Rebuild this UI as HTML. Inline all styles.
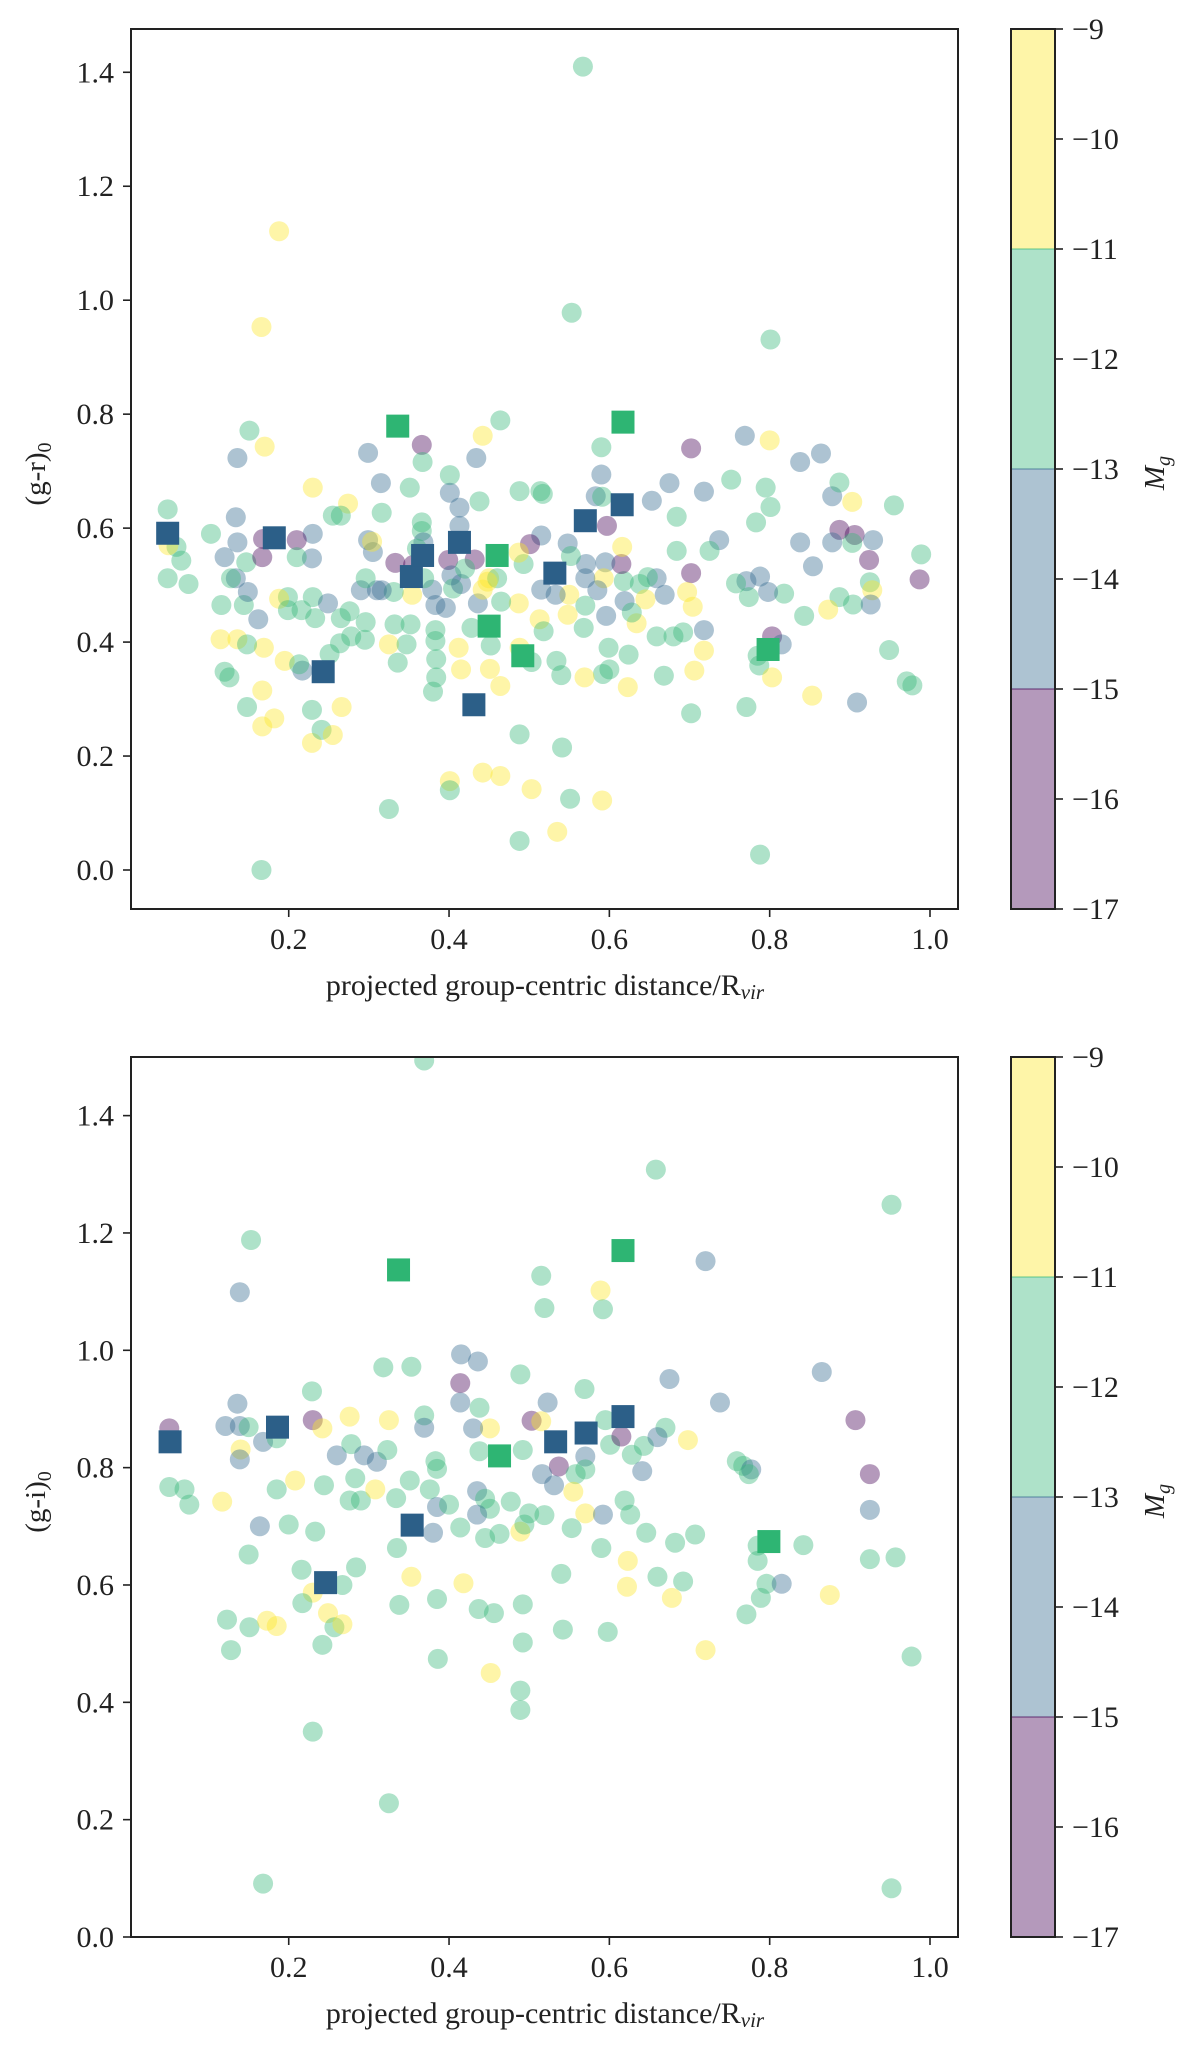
<!DOCTYPE html>
<html><head><meta charset="utf-8">
<style>
html,body{margin:0;padding:0;background:#fff;}
svg{display:block;font-family:"Liberation Serif",serif;}
</style></head>
<body>
<svg id="fig" width="1200" height="2053" viewBox="0 0 1200 2053" xmlns="http://www.w3.org/2000/svg"></svg>
<script>
// ---- top panel data: (g-r)0 vs distance, magnitude bins ----
const topX = [.567,.188,.166,.553,.801,.464,.442,.366,.367,.151,.170,.136,.299,.434,.315,.351,.230,.401,.401,.438,.413,.274,.316,.255,.265,.514,.488,.517,.590,.590,.583,.591,.653,.675,.684,.702,.718,.752,.769,.800,.838,.864,.795,.801,.783,.878,.887,.903,.955,.887,.906,.878,.903,.929,.838,.924,.989,.987,.925,.928,.904,.926,.887,.873,.843,.854,.818,.798,.788,.771,.758,.774,.737,.725,.684,.702,.697,.704,.718,.718,.949,.803,.815,.785,.787,.803,.853,.909,.971,.978,.771,.702,.706,.668,.623,.600,.592,.569,.540,.534,.599,.624,.634,.659,.680,.692,.669,.659,.648,.638,.618,.615,.616,.597,.595,.593,.585,.570,.571,.548,.552,.550,.570,.548,.568,.596,.619,.628,.645,.515,.501,.493,.487,.515,.533,.487,.513,.518,.488,.503,.488,.541,.503,.535,.488,.551,.591,.788,.166,.325,.401,.401,.442,.464,.415,.451,.464,.412,.428,.452,.436,.442,.450,.380,.384,.384,.383,.383,.383,.379,.369,.366,.366,.368,.336,.325,.332,.352,.347,.354,.331,.310,.290,.296,.295,.278,.264,.251,.276,.265,.233,.230,.249,.229,.230,.210,.210,.199,.188,.199,.216,.195,.217,.213,.169,.167,.182,.167,.148,.229,.229,.241,.255,.266,.120,.126,.115,.136,.148,.116,.144,.162,.149,.134,.128,.120,.147,.167,.168,.136,.134,.103,.049,.049,.075,.066,.060,.050,.299,.305,.304,.296,.316,.333,.355,.360,.399,.432,.413,.403,.405,.396,.415,.420,.465,.460,.448];
const topY = [1.41,1.121,.953,.978,.931,.789,.762,.746,.716,.771,.743,.723,.732,.723,.679,.671,.671,.693,.662,.647,.636,.643,.627,.622,.622,.665,.665,.66,.742,.694,.656,.655,.648,.679,.62,.74,.664,.685,.762,.754,.716,.731,.671,.637,.61,.656,.68,.646,.64,.597,.588,.575,.574,.579,.575,.544,.554,.51,.505,.491,.466,.466,.479,.457,.446,.533,.485,.488,.515,.507,.503,.479,.579,.56,.56,.521,.488,.462,.421,.385,.386,.41,.396,.376,.359,.338,.306,.294,.331,.324,.286,.275,.35,.341,.321,.352,.344,.338,.342,.367,.39,.378,.433,.41,.41,.417,.483,.512,.514,.502,.507,.537,.567,.604,.54,.512,.491,.512,.537,.573,.551,.483,.464,.448,.425,.446,.472,.452,.475,.587,.572,.537,.557,.492,.483,.468,.44,.419,.39,.365,.238,.215,.142,.067,.051,.125,.122,.027,0,.107,.156,.14,.171,.165,.352,.353,.323,.39,.425,.394,.468,.492,.512,.313,.338,.37,.402,.421,.465,.492,.512,.595,.61,.575,.364,.396,.431,.431,.396,.483,.488,.491,.491,.435,.404,.41,.398,.379,.454,.442,.442,.479,.468,.547,.59,.579,.549,.479,.476,.456,.456,.367,.35,.361,.39,.315,.266,.252,.286,.281,.223,.246,.237,.286,.348,.338,.405,.405,.396,.465,.465,.44,.488,.512,.512,.549,.54,.549,.581,.575,.619,.59,.633,.512,.502,.543,.567,.57,.579,.558,.576,.512,.491,.539,.535,.564,.544,.545,.604,.517,.494,.46,.502,.529,.471,.512,.506];
const topMag = [
 "G","Y","Y","G","G","G","Y","P","G","G",
 "Y","B","B","B","B","G","Y","G","B","G",
 "B","Y","G","G","G","G","G","G","G","B",
 "B","G","B","B","G","P","B","G","B","Y",
 "B","B","G","G","G","B","G","Y","G","P",
 "P","B","G","B","B","P","G","P","G","Y",
 "G","B","G","Y","G","B","G","B","B","B",
 "G","G","B","G","G","P","Y","Y","B","Y",
 "G","P","B","G","G","Y","Y","B","G","G",
 "G","G","Y","G","Y","G","G","Y","G","G",
 "G","G","Y","G","G","G","B","B","G","G",
 "G","P","Y","P","B","Y","B","B","B","B",
 "G","Y","G","Y","G","B","B","G","Y","B",
 "P","G","Y","B","B","Y","Y","G","Y","G",
 "G","G","Y","Y","G","G","Y","G","G","G",
 "Y","G","Y","Y","Y","Y","Y","Y","G","G",
 "B","Y","Y","G","G","G","G","G","B","B",
 "G","G","G","B","G","Y","G","G","G","Y",
 "G","B","B","G","G","G","G","G","G","G",
 "G","G","B","B","B","P","G","G","Y","G",
 "G","Y","B","G","Y","Y","Y","Y","G","G",
 "Y","G","Y","Y","G","G","Y","Y","G","G",
 "G","B","B","B","G","B","G","P","P","B",
 "B","G","G","G","G","G","G","Y","B","B",
 "Y","G","B","P","P","G","P","P","B","B",
 "G","B","B","G","G","G","Y"];
const topSqBX = [.049,.182,.243,.353,.367,.413,.431,.532,.570,.616];
const topSqBY = [.591,.583,.348,.515,.552,.575,.290,.521,.613,.641];
const topSqGX = [.336,.617,.460,.450,.492,.798];
const topSqGY = [.779,.786,.552,.428,.376,.387];

// ---- bottom panel data: (g-i)0 ----
const botX = [.369,.658,.952,.153,.139,.720,.515,.589,.519,.592,.415,.436,.318,.353,.489,.675,.865,.414,.229,.569,.738,.414,.523,.438,.369,.276,.325,.230,.051,.121,.139,.150,.242,.136,.907,.503,.515,.369,.451,.430,.595,.601,.643,.670,.660,.615,.698,.140,.139,.168,.185,.260,.278,.294,.310,.323,.438,.383,.385,.492,.537,.516,.531,.570,.570,.558,.628,.641,.759,.767,.777,.774,.925,.925,.051,.070,.076,.117,.185,.208,.244,.283,.276,.290,.308,.334,.351,.376,.385,.400,.435,.445,.451,.477,.500,.519,.555,.570,.592,.619,.626,.646,.682,.707,.435,.414,.445,.463,.489,.494,.553,.590,.164,.200,.233,.380,.335,.150,.284,.216,.230,.267,.353,.385,.338,.418,.437,.456,.492,.540,.623,.660,.622,.692,.678,.785,.785,.842,.796,.815,.789,.771,.875,.925,.957,.977,.720,.542,.598,.492,.452,.489,.489,.386,.123,.128,.151,.173,.185,.217,.249,.257,.267,.242,.230,.325,.168,.952];
const botY = [1.494,1.308,1.248,1.188,1.099,1.152,1.127,1.102,1.072,1.07,.993,.981,.971,.972,.959,.951,.963,.944,.93,.934,.911,.911,.911,.902,.889,.887,.881,.881,.867,.871,.871,.869,.867,.909,.881,.88,.879,.868,.867,.867,.881,.839,.837,.868,.852,.853,.847,.831,.814,.844,.85,.821,.84,.821,.81,.83,.828,.811,.798,.83,.802,.789,.77,.819,.797,.789,.822,.794,.811,.803,.797,.789,.789,.728,.767,.763,.737,.742,.763,.778,.77,.782,.744,.744,.763,.748,.778,.763,.733,.737,.76,.747,.73,.742,.722,.719,.759,.722,.72,.744,.72,.689,.672,.686,.72,.698,.68,.687,.691,.703,.697,.663,.7,.703,.691,.689,.663,.652,.63,.626,.587,.6,.614,.576,.566,.603,.559,.552,.567,.619,.641,.614,.597,.606,.578,.667,.641,.668,.602,.602,.578,.55,.583,.644,.647,.478,.489,.524,.52,.502,.45,.42,.387,.474,.541,.489,.528,.539,.53,.569,.552,.528,.533,.498,.35,.228,.091,.083];
const botMag = [
 "G","G","G","G","B","B","G","Y","G","G",
 "B","B","G","G","G","B","B","P","G","G",
 "B","B","B","G","G","Y","Y","P","P","B",
 "B","G","Y","B","P","P","Y","B","Y","B",
 "G","G","G","G","B","P","Y","Y","B","B",
 "G","B","G","B","B","G","G","G","G","G",
 "P","B","B","B","G","G","G","B","G","G",
 "B","G","P","B","G","G","G","Y","G","Y",
 "G","G","G","G","Y","G","G","G","B","G",
 "B","G","G","G","G","G","Y","Y","B","G",
 "G","G","G","G","B","G","G","G","Y","G",
 "G","G","B","G","G","B","G","G","G","G",
 "Y","G","Y","G","G","Y","G","G","G","G",
 "Y","G","Y","G","Y","G","G","G","G","B",
 "G","G","Y","G","G","G","Y","G","G","G",
 "Y","G","G","G","G","G","G","Y","Y","G",
 "Y","G","Y","G","G","G","G","G"];
const botSqBX = [.052,.186,.246,.354,.533,.571,.617];
const botSqBY = [.844,.869,.604,.702,.844,.859,.887];
const botSqGX = [.337,.617,.463,.799];
const botSqGY = [1.137,1.170,.820,.674];

const xTicks = [0.2,0.4,0.6,0.8,1.0];
const topYTicks = [0.0,0.2,0.4,0.6,0.8,1.0,1.2,1.4];
const botYTicks = [0.0,0.2,0.4,0.6,0.8,1.0,1.2,1.4];
const cbTicks = [-9,-10,-11,-12,-13,-14,-15,-16,-17];
const cbBins = [-17,-15,-13,-11,-9];
const binColors = ["#440154","#31688e","#35b779","#fde725"];

const NS = "http://www.w3.org/2000/svg";
const svg = document.getElementById("fig");
function mk(tag, attrs, parent){
  const e = document.createElementNS(NS, tag);
  for (const k in attrs) e.setAttribute(k, attrs[k]);
  (parent||svg).appendChild(e);
  return e;
}
function magOf(c){ return c==="Y"?-10:c==="G"?-12:c==="B"?-14:-16; }
function colorOf(m){
  for (let i=0;i<4;i++){ if (m>=cbBins[i] && m<cbBins[i+1]) return binColors[i]; }
  return binColors[3];
}
const fmt = v => v.toFixed(1);

function panel(o){
  const L=131, R=958, T=o.top, B=o.top+880;
  const xs = v => 128.4 + v*801.6;
  const ys = v => o.y0 - v*o.ppu;
  const g = mk("g",{});
  
  
  const clipId = o.name+"-clip";
  const cp = mk("clipPath",{id:clipId},g);
  mk("rect",{x:L,y:T,width:R-L,height:B-T},cp);
  const plot = mk("g",{"clip-path":"url(#"+clipId+")"},g);
  
  
  const n = Math.min(o.x.length, o.y.length);
  for (let i=0;i<n;i++){
    const c = mk("circle",{cx:xs(o.x[i]),cy:ys(o.y[i]),r:10,fill:colorOf(magOf(o.mag[i]||"G")),"fill-opacity":0.4},plot);
    
    
  }
  for (let i=0;i<o.sbx.length;i++){
    const s = mk("rect",{x:xs(o.sbx[i])-11.5,y:ys(o.sby[i])-11.5,width:23,height:23,fill:"#2c5f88"},plot);
    
    
  }
  for (let i=0;i<o.sgx.length;i++){
    const s = mk("rect",{x:xs(o.sgx[i])-11.5,y:ys(o.sgy[i])-11.5,width:23,height:23,fill:"#2eb573"},plot);
    
    
  }
  const frame = mk("rect",{x:L,y:T,width:R-L,height:B-T,fill:"none",stroke:"#222","stroke-width":2},g);
  
  
  xTicks.forEach(v=>{
    const x=xs(v);
    mk("line",{x1:x,x2:x,y1:B,y2:B+8,stroke:"#222","stroke-width":1.6},g);
    const t=mk("text",{x:x,y:B+40,"text-anchor":"middle","font-size":30,fill:"#222"},g);
    t.textContent=fmt(v);
    
    
  });
  o.yt.forEach(v=>{
    const y=ys(v);
    mk("line",{x1:L-8,x2:L,y1:y,y2:y,stroke:"#222","stroke-width":1.6},g);
    const t=mk("text",{x:114,y:y+10,"text-anchor":"end","font-size":30,fill:"#222"},g);
    t.textContent=fmt(v);
    
    
  });
  const xl=mk("text",{x:545,y:B+86,"text-anchor":"middle","font-size":30,fill:"#222"},g);
  xl.innerHTML='projected group-centric distance/R<tspan font-size="21" font-style="italic" dy="4">vir</tspan>';
  
  
  const yl=mk("text",{x:0,y:0,"text-anchor":"middle","font-size":29,fill:"#222",transform:"translate(45,"+(T+445)+") rotate(-90)"},g);
  yl.innerHTML=o.ylab+'<tspan font-size="20" dy="6">0</tspan>';
  
  
  // colorbar
  const cb = mk("g",{},g);
  
  
  const cL=1011, cR=1055, per=110;
  const cy = m => T + (-9 - m)*per;
  for (let i=0;i<4;i++){
    const r=mk("rect",{x:cL,y:cy(cbBins[i+1]),width:cR-cL,height:cy(cbBins[i])-cy(cbBins[i+1]),fill:binColors[i],"fill-opacity":0.4},cb);
    
    
    if(i>0) mk("line",{x1:cL,x2:cR,y1:cy(cbBins[i]),y2:cy(cbBins[i]),stroke:binColors[i-1],"stroke-opacity":0.5,"stroke-width":1.5},cb);
  }
  mk("rect",{x:cL,y:T,width:cR-cL,height:880,fill:"none",stroke:"#222","stroke-width":2},cb);
  cbTicks.forEach(m=>{
    const y=cy(m);
    mk("line",{x1:cR,x2:cR+8,y1:y,y2:y,stroke:"#222","stroke-width":1.6},cb);
    const t=mk("text",{x:1072,y:y+10,"font-size":30,fill:"#222"},cb);
    t.textContent="\u2212"+Math.abs(m);
    
    
  });
  const ml=mk("text",{x:0,y:0,"text-anchor":"middle","font-size":29,"font-style":"italic",fill:"#222",transform:"translate(1164,"+(T+444)+") rotate(-90)"},cb);
  ml.innerHTML='M<tspan font-size="20" dy="6">g</tspan>';
  
  
}

panel({name:"top-panel",top:29,y0:870,ppu:569.8,x:topX,y:topY,mag:topMag,sbx:topSqBX,sby:topSqBY,sgx:topSqGX,sgy:topSqGY,yt:topYTicks,ylab:"(g-r)"});
panel({name:"bottom-panel",top:1057,y0:1937,ppu:586.7,x:botX,y:botY,mag:botMag,sbx:botSqBX,sby:botSqBY,sgx:botSqGX,sgy:botSqGY,yt:botYTicks,ylab:"(g-i)"});
</script>
</body></html>
